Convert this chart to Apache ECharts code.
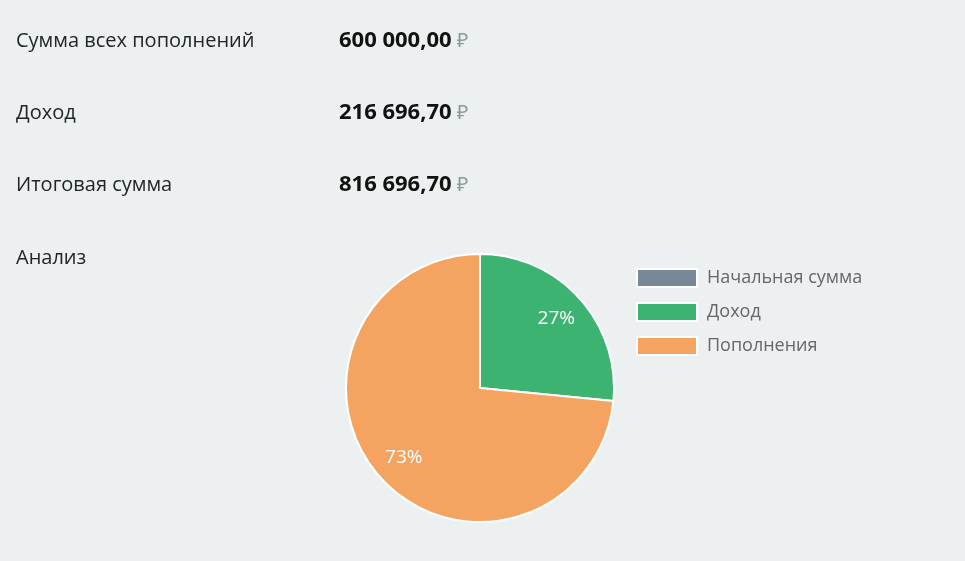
<!DOCTYPE html>
<html><head><meta charset="utf-8">
<script src="https://cdn.jsdelivr.net/npm/echarts@6/dist/echarts.min.js"></script>
<style>html,body{margin:0;padding:0;background:#ecf0f1;}#c{width:965px;height:561px;}</style>
</head><body><div id="c"></div>
<script>
const categories = ['Начальная сумма', 'Доход', 'Пополнения'];
const values = [0, 216696.70, 600000.00];
const colors = ['#778899', '#3cb371', '#f4a460'];
const rowLabels = ['Сумма всех пополнений', 'Доход', 'Итоговая сумма', 'Анализ'];
const rowValues = ['600 000,00', '216 696,70', '816 696,70'];

const chart = echarts.init(document.getElementById('c'));
const FONT = '"Open Sans", "Noto Sans", sans-serif';
const rowY = [42, 114, 186, 259];
const graphics = [];
rowLabels.forEach((t, i) => {
  graphics.push({type: 'text', left: 16, top: rowY[i] - 11, style: {text: t, font: '20px ' + FONT, fill: '#212529'}});
});
rowValues.forEach((t, i) => {
  graphics.push({type: 'text', left: 339, top: rowY[i] - 12, style: {
    text: '{v|' + t + '} {r|₽}', font: '20px ' + FONT,
    rich: {v: {fontFamily: FONT, fontSize: 22, fontWeight: 'bold', fill: '#111'}, r: {fontFamily: FONT, fontSize: 20, fill: '#8f9a9e'}}
  }});
});
const data = categories.map((n, i) => ({name: n, value: values[i], itemStyle: {color: colors[i]}}));
const fmt = p => p.value > 0 ? Math.round(p.percent) + '%' : '';
chart.setOption({
  backgroundColor: '#ecf0f1',
  animation: false,
  graphic: graphics,
  legend: {
    data: categories, orient: 'vertical', left: 631, top: 263,
    itemWidth: 60, itemHeight: 18, itemGap: 14, icon: 'rect',
    textStyle: {fontFamily: FONT, fontSize: 18, color: '#666', padding: [0, 0, 0, 5]}
  },
  series: [
    {type: 'pie', center: [480, 388], radius: [0, 134], data: data, label: {show: false}, labelLine: {show: false},
     itemStyle: {borderColor: '#fff', borderWidth: 2}},
    {type: 'pie', center: [480, 388], radius: [66, 134], data: data.map(d => ({name: d.name, value: d.value, itemStyle: {color: 'rgba(0,0,0,0)'}})),
     silent: true, legendHoverLink: false,
     label: {show: true, position: 'inside', formatter: fmt, color: '#fff', fontFamily: FONT, fontSize: 19},
     labelLine: {show: false}, itemStyle: {borderWidth: 0}}
  ]
});
</script></body></html>
